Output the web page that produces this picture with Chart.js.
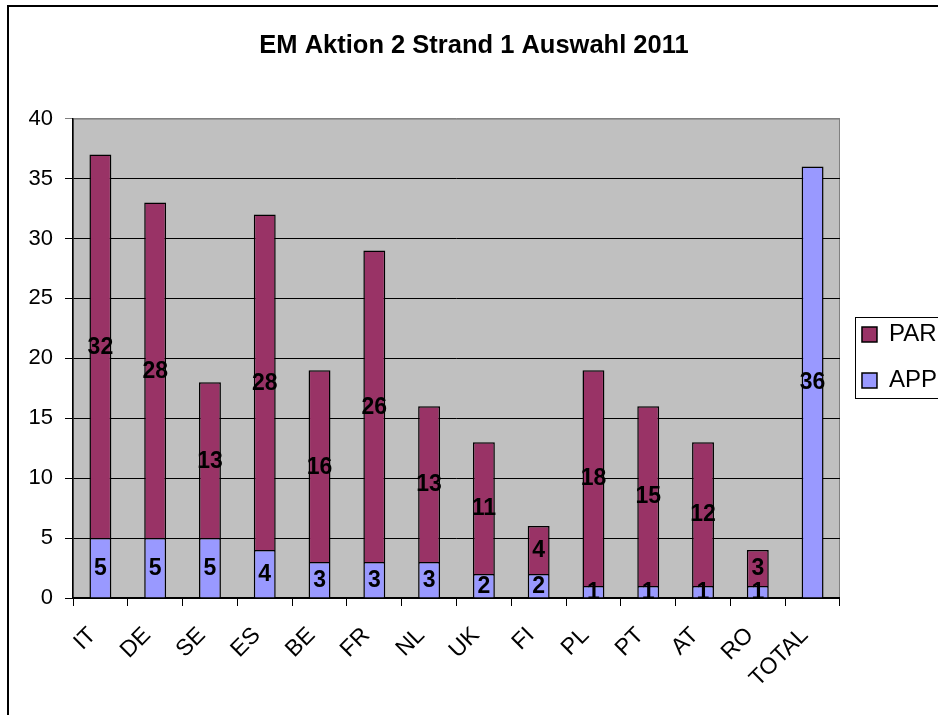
<!DOCTYPE html>
<html>
<head>
<meta charset="utf-8">
<script src="https://cdn.jsdelivr.net/npm/chart.js@4"></script>
<style>
  html, body { margin: 0; padding: 0; background: #fff; }
  #wrap { width: 938px; height: 715px; }
</style>
</head>
<body>
<div id="wrap"><canvas id="emChart" width="938" height="715"></canvas></div>
<script>
const countries = ['IT', 'DE', 'SE', 'ES', 'BE', 'FR', 'NL', 'UK', 'FI', 'PL', 'PT', 'AT', 'RO', 'TOTAL'];
const appValues = [5, 5, 5, 4, 3, 3, 3, 2, 2, 1, 1, 1, 1, 36];
const parValues = [32, 28, 13, 28, 16, 26, 13, 11, 4, 18, 15, 12, 3, null];
const yMax = 40;
const yStep = 5;

const FONT = '"Liberation Sans", Arial, sans-serif';

// grey plot area + outer chart frame
const plotBackground = {
    id: 'plotBackground',
    beforeDraw(chart) {
        const { ctx, chartArea: a } = chart;
        ctx.save();
        ctx.fillStyle = '#c0c0c0';
        ctx.fillRect(a.left, a.top, a.width, a.height);
        ctx.strokeStyle = '#808080';
        ctx.lineWidth = 1;
        ctx.strokeRect(a.left + 0.5, a.top + 0.5, a.width - 1, a.height);
        ctx.strokeStyle = '#000';
        ctx.lineWidth = 2;
        ctx.strokeRect(8, 6, 2000, 2000);
        ctx.restore();
    }
};

// value in the middle of each segment
const segmentLabels = {
    id: 'segmentLabels',
    afterDatasetsDraw(chart) {
        const ctx = chart.ctx;
        ctx.save();
        ctx.font = 'bold 23px ' + FONT;
        ctx.fillStyle = '#000';
        ctx.textAlign = 'center';
        ctx.textBaseline = 'middle';
        chart.data.datasets.forEach((ds, i) => {
            const meta = chart.getDatasetMeta(i);
            meta.data.forEach((bar, j) => {
                const v = ds.data[j];
                if (v == null || v === 0) return;
                const p = bar.getCenterPoint();
                ctx.fillText(String(v), p.x, p.y + 1);
            });
        });
        ctx.restore();
    }
};

// border around the legend, Excel style
const legendFrame = {
    id: 'legendFrame',
    afterDraw(chart) {
        const boxes = chart.legend && chart.legend.legendHitBoxes;
        if (!boxes || !boxes.length) return;
        const first = boxes[0];
        const last = boxes[boxes.length - 1];
        const ctx = chart.ctx;
        ctx.save();
        ctx.strokeStyle = '#000';
        ctx.lineWidth = 1;
        const top = first.top - 6;
        const bottom = last.top + last.height + 5;
        ctx.strokeRect(Math.round(first.left - 7) + 0.5, Math.round(top) + 0.5, 300, Math.round(bottom - top));
        ctx.restore();
    }
};

new Chart(document.getElementById('emChart'), {
    type: 'bar',
    data: {
        labels: countries,
        datasets: [
            {
                label: 'APP',
                data: appValues,
                backgroundColor: '#9999ff',
                borderColor: '#000',
                borderWidth: 1.5
            },
            {
                label: 'PAR',
                data: parValues,
                backgroundColor: '#993366',
                borderColor: '#000',
                borderWidth: 1.5
            }
        ]
    },
    options: {
        responsive: false,
        animation: false,
        devicePixelRatio: 1,
        layout: { padding: { left: 1, right: -9, top: 0, bottom: 0 } },
        datasets: { bar: { categoryPercentage: 1, barPercentage: 0.4 } },
        plugins: {
            title: {
                display: true,
                text: 'EM Aktion 2 Strand 1 Auswahl 2011',
                color: '#000',
                font: { family: FONT, size: 25.5, weight: 'bold', lineHeight: 1.2 },
                padding: { top: 31, bottom: 57 }
            },
            legend: {
                position: 'right',
                reverse: true,
                labels: {
                    color: '#000',
                    font: { family: FONT, size: 24 },
                    boxWidth: 15,
                    boxHeight: 15,
                    padding: 22
                }
            },
            tooltip: { enabled: false }
        },
        scales: {
            x: {
                stacked: true,
                grid: { drawOnChartArea: false, drawTicks: true, tickLength: 8, color: '#000', lineWidth: 1 },
                border: { color: '#000', width: 1.5 },
                ticks: {
                    color: '#000',
                    font: { family: FONT, size: 23 },
                    minRotation: 45,
                    maxRotation: 45,
                    autoSkip: false,
                    padding: 16,
                    labelOffset: -8
                },
                afterFit(scale) { scale.height = 117; }
            },
            y: {
                stacked: true,
                min: 0,
                max: yMax,
                ticks: {
                    stepSize: yStep,
                    color: '#000',
                    font: { family: FONT, size: 22 },
                    padding: 12
                },
                grid: {
                    color: (c) => (c.tick && c.tick.value === yMax ? '#808080' : '#000'),
                    lineWidth: 1,
                    tickLength: 8
                },
                border: { color: '#000', width: 1.5 },
                afterFit(scale) { scale.width = 72; }
            }
        }
    },
    plugins: [plotBackground, segmentLabels, legendFrame]
});
</script>
</body>
</html>
